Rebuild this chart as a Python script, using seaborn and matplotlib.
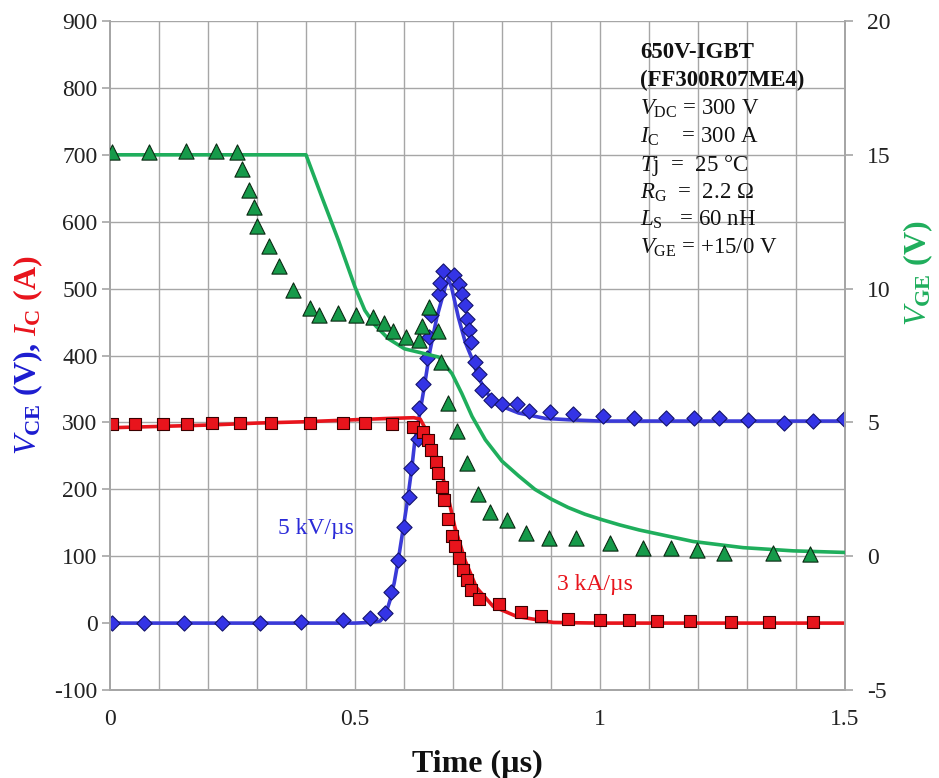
import numpy as np
import pandas as pd
import matplotlib
matplotlib.use("Agg")
import matplotlib.pyplot as plt
import seaborn as sns

# ---- measured waveforms (markers) ----
t_vce_meas = [0.005, 0.069, 0.150, 0.229, 0.307, 0.389, 0.476, 0.531, 0.561, 0.573, 0.588,
              0.601, 0.611, 0.614, 0.628, 0.631, 0.639, 0.646, 0.652, 0.656, 0.671, 0.673,
              0.680, 0.703, 0.713, 0.718, 0.724, 0.729, 0.733, 0.737, 0.745, 0.754, 0.760,
              0.777, 0.799, 0.830, 0.855, 0.897, 0.944, 1.007, 1.070, 1.135, 1.192, 1.243,
              1.303, 1.376, 1.435, 1.498]
vce_meas = [0, 0, 0, 0, 0, 1, 5, 8, 15, 47, 95,
            144, 188, 232, 275, 321, 357, 396, 428, 460, 492, 509,
            526, 521, 507, 492, 476, 455, 438, 420, 391, 372, 348,
            334, 328, 327, 317, 315, 313, 309, 307, 306, 306, 307,
            304, 299, 302, 305]

t_ic_meas = [0.005, 0.050, 0.108, 0.158, 0.209, 0.265, 0.328, 0.408, 0.475, 0.520, 0.575,
             0.619, 0.639, 0.648, 0.656, 0.665, 0.670, 0.677, 0.682, 0.690, 0.698, 0.704,
             0.713, 0.721, 0.729, 0.737, 0.753, 0.794, 0.839, 0.880, 0.934, 1.000, 1.059,
             1.117, 1.184, 1.267, 1.344, 1.434]
ic_meas = [298, 297, 297, 297, 299, 299, 299, 299, 299, 299, 298,
           293, 286, 273, 258, 241, 224, 204, 184, 156, 130, 115,
           97, 80, 65, 50, 36, 28, 16, 10, 6, 4, 4,
           3, 3, 2, 2, 2]

t_vge_meas = [0.005, 0.080, 0.156, 0.216, 0.260, 0.269, 0.283, 0.294, 0.301, 0.324, 0.345,
              0.374, 0.408, 0.427, 0.466, 0.503, 0.537, 0.560, 0.577, 0.604, 0.631, 0.636,
              0.650, 0.669, 0.676, 0.690, 0.708, 0.729, 0.751, 0.775, 0.810, 0.848, 0.896,
              0.951, 1.020, 1.088, 1.144, 1.197, 1.253, 1.354, 1.428]
vge_meas = [15.1, 15.1, 15.15, 15.15, 15.1, 14.48, 13.69, 13.04, 12.33, 11.61, 10.83,
            9.93, 9.26, 9.02, 9.08, 9.02, 8.93, 8.70, 8.43, 8.18, 8.08, 8.62,
            9.3, 8.43, 7.25, 5.71, 4.69, 3.48, 2.33, 1.65, 1.35, 0.88, 0.69,
            0.69, 0.48, 0.32, 0.32, 0.23, 0.13, 0.13, 0.09]

# ---- simulated waveforms (lines) ----
t_vce_sim = [0.0, 0.50, 0.53, 0.551, 0.562, 0.571, 0.580, 0.588, 0.597, 0.606, 0.616, 0.622,
             0.629, 0.640, 0.653, 0.667, 0.684, 0.690, 0.697, 0.711, 0.725, 0.739, 0.749,
             0.766, 0.793, 0.834, 0.888, 0.935, 1.0, 1.5]
vce_sim = [0, 0, 1, 3, 12, 33, 60, 93, 135, 178, 232, 272,
           300, 347, 407, 457, 502, 515, 502, 457, 420, 395, 373,
           346, 326, 314, 306, 304, 302, 302]

t_ic_sim = [0.0, 0.1, 0.2, 0.3, 0.4, 0.5, 0.571, 0.620, 0.633, 0.650, 0.667, 0.687, 0.704,
            0.725, 0.748, 0.782, 0.830, 0.905, 1.0, 1.5]
ic_sim = [292, 294, 296, 299, 301, 304, 306, 307, 305, 282, 248, 198, 143,
          93, 53, 25, 10, 1, 0, 0]

t_vge_sim = [0.0, 0.400, 0.432, 0.466, 0.500, 0.520, 0.541, 0.568, 0.601, 0.635, 0.671,
             0.698, 0.718, 0.739, 0.766, 0.800, 0.834, 0.867, 0.901, 0.935, 0.969, 1.003,
             1.040, 1.080, 1.190, 1.292, 1.394, 1.5]
vge_sim = [15.0, 15.0, 13.44, 11.81, 10.06, 9.19, 8.63, 8.13, 7.75, 7.6, 7.44,
           6.82, 6.08, 5.22, 4.35, 3.55, 3.0, 2.5, 2.13, 1.82, 1.57, 1.37,
           1.17, 0.98, 0.55, 0.32, 0.2, 0.14]

x_ticks = [0, 0.5, 1, 1.5]
x_tick_labels = ["0", "0.5", "1", "1.5"]
left_ticks = list(range(-100, 901, 100))
right_ticks = [-5, 0, 5, 10, 15, 20]

info_lines = [
    (r"650V-IGBT", "bold"),
    (r"(FF300R07ME4)", "bold"),
    (r"$\mathit{V}_{\mathrm{DC}}$ = 300 V", "normal"),
    (r"$\mathit{I}_{\mathrm{C}}$    = 300 A", "normal"),
    (r"$\mathit{T}$j  =  25 °C", "normal"),
    (r"$\mathit{R}_{\mathrm{G}}$  =  2.2 Ω", "normal"),
    (r"$\mathit{L}_{\mathrm{S}}$   = 60 nH", "normal"),
    (r"$\mathit{V}_{\mathrm{GE}}$ = +15/0 V", "normal"),
]

BLUE = "#3434e6"
BLUE_LINE = "#3a3ad8"
RED = "#e8141c"
GREEN_LINE = "#1fae5c"
GREEN_MK = "#169a4a"

sns.set_theme(style="white")
plt.rcParams["font.family"] = ["Liberation Serif", "DejaVu Serif"]
plt.rcParams["mathtext.fontset"] = "custom"
plt.rcParams["mathtext.rm"] = "Liberation Serif"
plt.rcParams["mathtext.it"] = "Liberation Serif:italic"
plt.rcParams["mathtext.bf"] = "Liberation Serif:bold"
plt.rcParams["axes.unicode_minus"] = False

fig = plt.figure(figsize=(9.39, 7.78), dpi=100)
ax = fig.add_axes([110 / 939, 1 - 690 / 778, (845 - 110) / 939, (690 - 21) / 778])
ax2 = ax.twinx()

GRID = "#a6a6a6"

# gridlines on primary axis
ax.set_xlim(0, 1.5)
ax.set_ylim(-100, 900)
for gx in np.arange(0.1, 1.5, 0.1):
    ax.axvline(gx, color=GRID, lw=1.0, zorder=0)
for gy in left_ticks[1:]:
    ax.axhline(gy, color=GRID, lw=1.0, zorder=0)

# V_CE
sns.lineplot(x=t_vce_sim, y=vce_sim, ax=ax, color=BLUE_LINE, lw=2.6, sort=False,
             estimator=None, zorder=3)
sns.scatterplot(x=t_vce_meas, y=vce_meas, ax=ax, marker="D", s=60, color=BLUE,
                edgecolor="#14146e", linewidth=0.8, zorder=4)
# I_C
sns.lineplot(x=t_ic_sim, y=ic_sim, ax=ax, color=RED, lw=2.6, sort=False,
             estimator=None, zorder=5)
sns.scatterplot(x=t_ic_meas, y=ic_meas, ax=ax, marker="s", s=68, color=RED,
                edgecolor="#3a0000", linewidth=0.8, zorder=6)

# V_GE on the secondary axis
ax2.set_ylim(-5, 20)
sns.lineplot(x=t_vge_sim, y=vge_sim, ax=ax2, color=GREEN_LINE, lw=2.6, sort=False,
             estimator=None, zorder=3)
sns.scatterplot(x=t_vge_meas, y=vge_meas, ax=ax2, marker="^", s=120, color=GREEN_MK,
                edgecolor="#0c2a14", linewidth=0.8, zorder=4)

# axes styling
for a in (ax, ax2):
    a.spines["top"].set_visible(False)
    for side in ("left", "right", "bottom"):
        a.spines[side].set_color(GRID)
        a.spines[side].set_linewidth(1.3)
    a.set_xlabel("")
    a.set_ylabel("")
    a.grid(False)

ax.set_xticks(x_ticks)
ax.set_xticklabels(x_tick_labels)
ax.set_yticks(left_ticks)
ax.tick_params(axis="x", length=0, pad=14, labelsize=17, labelcolor="#222222")
ax.tick_params(axis="y", direction="out", length=6, width=1.2, color=GRID, pad=3,
               labelsize=17, labelcolor="#222222", left=True)
ax2.set_yticks(right_ticks)
ax2.tick_params(axis="y", direction="out", length=6, width=1.2, color=GRID, pad=10,
                labelsize=17, labelcolor="#222222", right=True)

# slope annotations
ax.text(0.42, 142, "5 kV/µs", color="#2a2ad8", fontsize=17, ha="center", va="center")
ax.text(0.99, 58, "3 kA/µs", color=RED, fontsize=17, ha="center", va="center")

# operating-condition box
y0 = 868
for i, (line, weight) in enumerate(info_lines):
    ax.text(1.082, y0 - i * 41.5, line, fontsize=16.5, fontweight=weight, color="#111111",
            ha="left", va="top", zorder=7)

ax.set_xlabel("Time (µs)", fontsize=23, fontweight="bold", color="#111111", labelpad=14)

# two-colour left axis label, stacked bottom-up then centred on the axis
fig.canvas.draw()
renderer = fig.canvas.get_renderer()
lbl_x = 28 / 939
t1 = fig.text(lbl_x, 0.3, r"$\mathbf{\mathit{V}_{CE}}$ (V),", rotation=90, color="#1c1cd0",
              fontsize=23, fontweight="bold", ha="center", va="bottom")
fig.canvas.draw()
bb1 = t1.get_window_extent(renderer).transformed(fig.transFigure.inverted())
t2 = fig.text(lbl_x, bb1.y1 + 0.008, r"$\mathbf{\mathit{I}_{C}}$ (A)", rotation=90, color=RED,
              fontsize=23, fontweight="bold", ha="center", va="bottom")
fig.canvas.draw()
bb2 = t2.get_window_extent(renderer).transformed(fig.transFigure.inverted())
centre = 1 - 355 / 778
shift = centre - (bb1.y0 + bb2.y1) / 2
for t in (t1, t2):
    px, py = t.get_position()
    t.set_position((px, py + shift))

fig.text(918 / 939, 1 - 273 / 778, r"$\mathbf{\mathit{V}_{GE}}$ (V)", rotation=90,
         color=GREEN_LINE, fontsize=23, fontweight="bold", ha="center", va="center")

fig.savefig("out.png", dpi=100, facecolor="white")
